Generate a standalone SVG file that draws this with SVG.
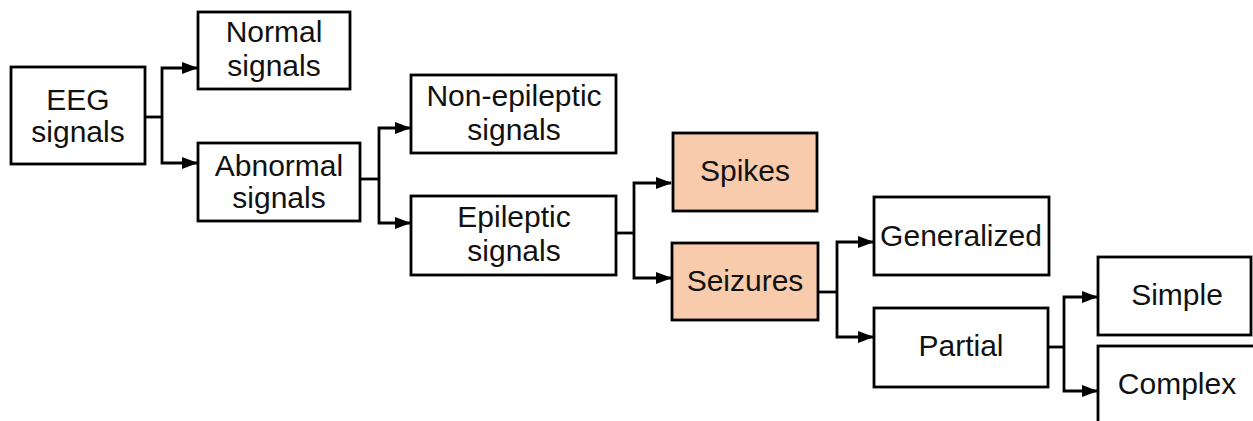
<svg xmlns="http://www.w3.org/2000/svg" width="1253" height="421" viewBox="0 0 1253 421">
<defs>
<style>
.box{fill:#ffffff;stroke:#000000;stroke-width:2.8}
.hl{fill:#F8CBAD;stroke:#000000;stroke-width:2.8}
text{font-family:"Liberation Sans",Arial,sans-serif;font-size:30px;fill:#111111;text-anchor:middle}
.ln{fill:none;stroke:#000000;stroke-width:2.8}
.ar{fill:none;stroke:#000000;stroke-width:2.8;marker-end:url(#ah)}
</style>
<marker id="ah" viewBox="0 0 16 12" refX="15" refY="6" markerWidth="16" markerHeight="12" markerUnits="userSpaceOnUse" orient="auto">
<path d="M0,0 L16,6 L0,12 Z" fill="#000000"/>
</marker>
</defs>
<rect width="1253" height="421" fill="#ffffff"/>
<g id="connectors">
<path class="ln" d="M145,117 H162"/>
<path class="ar" d="M162,117 V68 H197"/>
<path class="ar" d="M162,117 V163 H197"/>
<path class="ln" d="M360,179 H379"/>
<path class="ar" d="M379,179 V128 H410"/>
<path class="ar" d="M379,179 V223 H410"/>
<path class="ln" d="M616,233 H634"/>
<path class="ar" d="M634,233 V183 H671"/>
<path class="ar" d="M634,233 V278 H671"/>
<path class="ln" d="M818,292 H837"/>
<path class="ar" d="M837,292 V242 H873"/>
<path class="ar" d="M837,292 V337 H873"/>
<path class="ln" d="M1048,347 H1064"/>
<path class="ar" d="M1064,347 V297 H1097"/>
<path class="ar" d="M1064,347 V391 H1097"/>
</g>
<g id="eeg">
<rect class="box" x="11" y="67" width="134" height="97"/>
<text x="78" y="110">EEG</text>
<text x="78" y="142">signals</text>
</g>
<g id="normal">
<rect class="box" x="198" y="12" width="152" height="77"/>
<text x="274" y="42">Normal</text>
<text x="274" y="76">signals</text>
</g>
<g id="abnormal">
<rect class="box" x="198" y="143" width="162" height="78"/>
<text x="279" y="176">Abnormal</text>
<text x="279" y="208">signals</text>
</g>
<g id="nonepileptic">
<rect class="box" x="411" y="75" width="205" height="78"/>
<text x="514" y="106">Non-epileptic</text>
<text x="514" y="140">signals</text>
</g>
<g id="epileptic">
<rect class="box" x="411" y="196" width="205" height="79"/>
<text x="514" y="227">Epileptic</text>
<text x="514" y="261">signals</text>
</g>
<g id="spikes">
<rect class="hl" x="673" y="133" width="144" height="78"/>
<text x="745" y="181">Spikes</text>
</g>
<g id="seizures">
<rect class="hl" x="672" y="243" width="146" height="77"/>
<text x="745" y="291">Seizures</text>
</g>
<g id="generalized">
<rect class="box" x="874" y="197" width="175" height="78"/>
<text x="961" y="246">Generalized</text>
</g>
<g id="partial">
<rect class="box" x="874" y="308" width="174" height="79"/>
<text x="961" y="356">Partial</text>
</g>
<g id="simple">
<rect class="box" x="1098" y="257" width="153" height="78"/>
<text x="1177" y="305">Simple</text>
</g>
<g id="complex">
<rect class="box" x="1098" y="346" width="170" height="90"/>
<text x="1177" y="394">Complex</text>
</g>
</svg>
